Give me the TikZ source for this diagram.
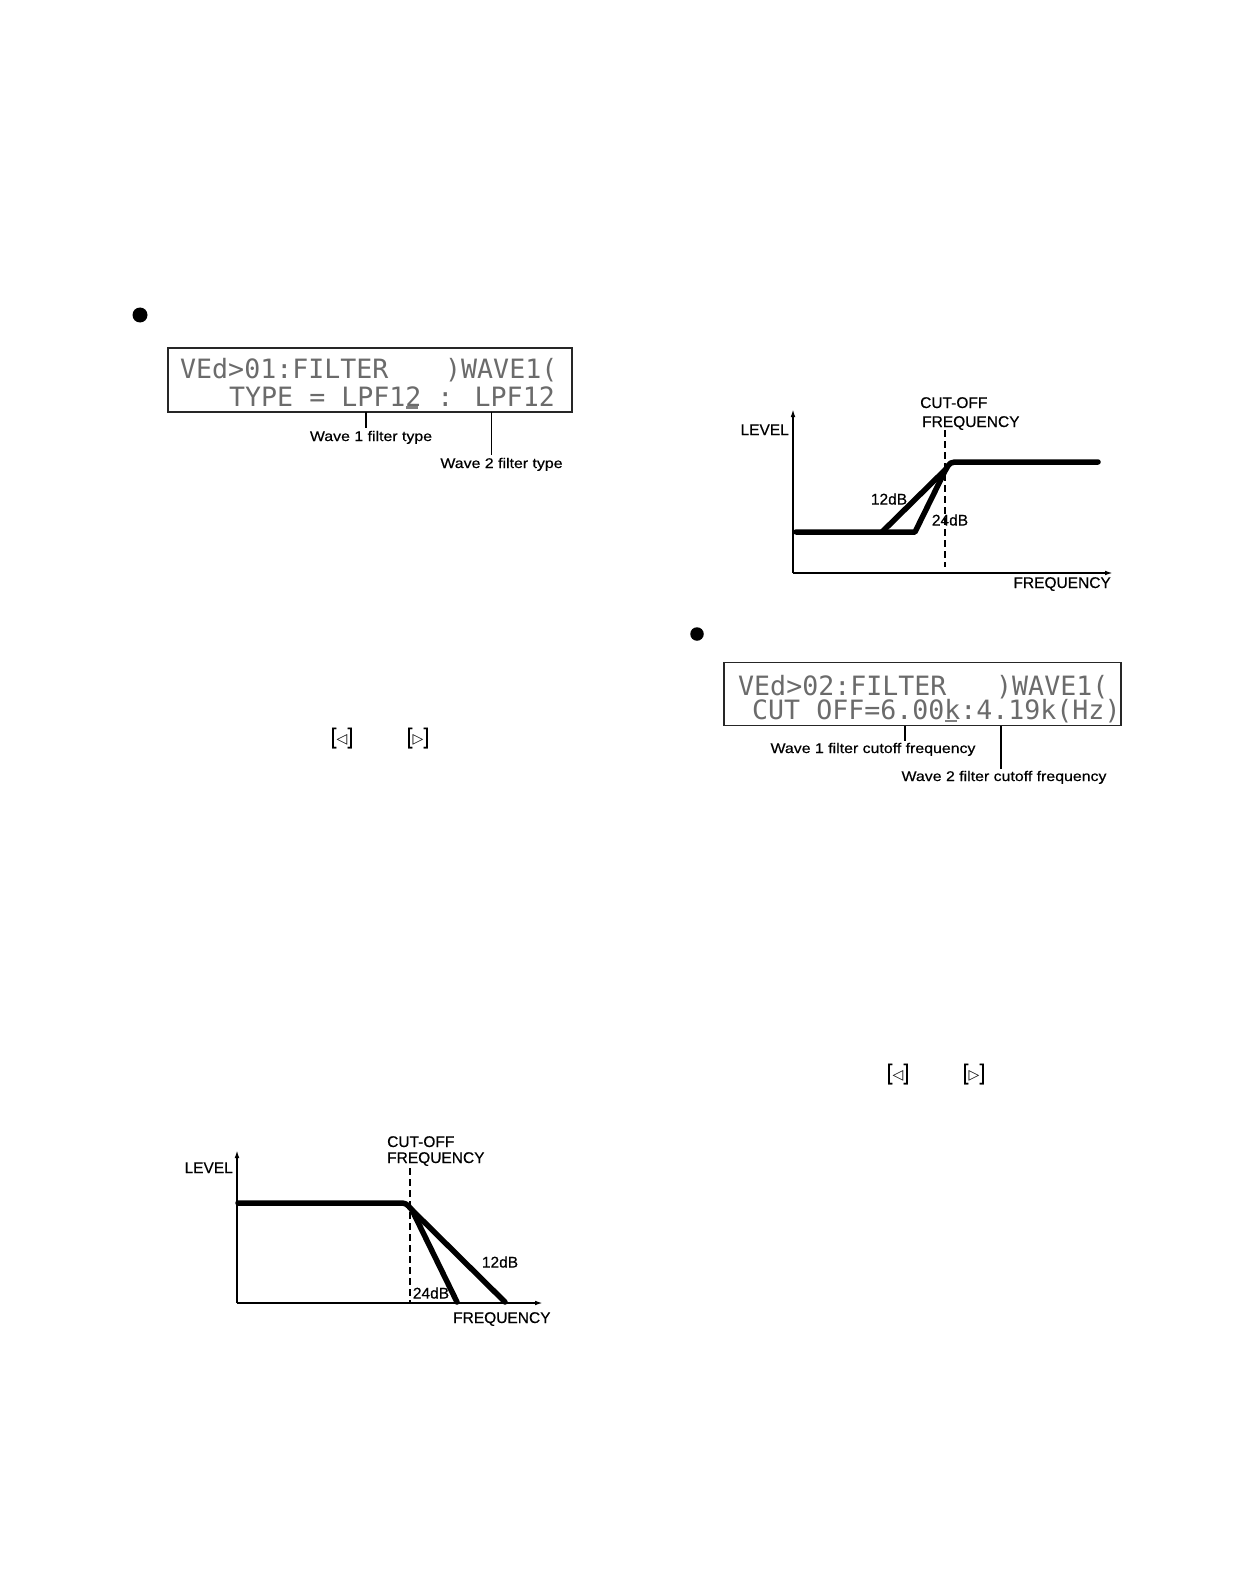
\documentclass[tikz,border=0pt]{standalone}
\usepackage{graphicx}
\usepackage{fontspec}
\setmainfont{Liberation Sans}
\newfontfamily\lblfont[FakeBold=0.35]{Liberation Sans}
\newfontfamily\lcdfont{DejaVu Sans Mono}
\newfontfamily\symfont{DejaVu Sans}
\usetikzlibrary{arrows.meta}
\newcommand\stretchlbl[1]{\scalebox{1.135}[1]{#1}}
\begin{document}
\begin{tikzpicture}[x=1pt,y=-1pt,
  bullet/.style={circle,fill=black,inner sep=0pt,minimum size=15pt},
  lcdbox/.style={draw=black!85,line width=1.4pt,inner sep=0pt},
  lcdA/.style={font=\lcdfont\fontsize{26.6}{26.6}\selectfont,text=black!58,inner sep=0pt,anchor=base west},
  cursor/.style={line width=2.6pt,black!50},
  lbl/.style={font=\lblfont\fontsize{14}{14}\selectfont,inner sep=0pt,anchor=base},
  leader/.style={line width=1.1pt},
  axis/.style={line width=1.9pt,-{Latex[length=9pt,width=4.5pt]}},
  curve/.style={line width=5.5pt,line join=round,line cap=round},
  cutline/.style={line width=2.6pt,dash pattern=on 7pt off 4pt},
  glbl/.style={font=\lblfont\fontsize{15.5}{15.5}\selectfont,inner sep=0pt},
  brk/.style={inner sep=0pt,font=\lblfont\fontsize{22}{22}\selectfont}
]
\useasboundingbox (0,0) rectangle (1242,1594);
\fill[white] (0,0) rectangle (1242,1594);

% ---------- first display ----------
\node[bullet] (b1) at (140,315) {};
\node[lcdbox,minimum width=404pt,minimum height=64pt] (lcd1) at (370,380) {};
\node[lcdA] (t1a) at (180,378) {VEd>01:FILTER};
\node[lcdA] (t1b) at (445,378) {)WAVE1(};
\node[lcdA] (t1c) at (229,406) {TYPE = LPF12 : LPF12};
\coordinate (c1a) at (406,407.5);
\coordinate (c1b) at (418,407.5);
\draw[cursor] (c1a) -- (c1b);

\node[lbl] (w1) at (371,441) {\stretchlbl{Wave 1 filter type}};
\node[lbl] (w2) at (501.5,468) {\stretchlbl{Wave 2 filter type}};
\coordinate (p1) at (366,412);
\coordinate (p2) at (491.7,412);
\draw[leader] (p1) -- (p1 |- 0,428);
\draw[leader] (p2) -- (p2 |- 0,455);

% brackets, left column
\node[brk] (k1) at (342,738) {[{\symfont\fontsize{14}{14}\selectfont ◁}]};
\node[brk] (k2) at (418,738) {[{\symfont\fontsize{14}{14}\selectfont ▷}]};

% ---------- high-pass graph (upper right) ----------
\coordinate (o1) at (793,573);
\coordinate (y1) at (793,408);
\coordinate (x1) at (1114,573);
\draw[axis] (o1) -- (y1);
\draw[axis] (o1) -- (x1);
\node[glbl,anchor=base east] (lv1) at (789,435) {LEVEL};
\node[glbl,anchor=base west] (co1a) at (920,408) {CUT-OFF};
\node[glbl,anchor=base west] (co1b) at (922,427) {FREQUENCY};
\node[glbl,anchor=base east] (fq1) at (1111,588) {FREQUENCY};
\draw[cutline] (945,430) -- (945,567);
\draw[curve] (796,532) -- (915,532) -- (945,471) .. controls (950,462) .. (960,462) -- (1098,462);
\draw[curve] (882,532) -- (946,469);
\node[glbl] (db12a) at (889,499) {12dB};
\node[glbl] (db24a) at (950,520) {24dB};

% ---------- second display ----------
\node[bullet,minimum size=13.5pt] (b2) at (697,634) {};
\node[lcdbox,minimum width=397pt,minimum height=63pt] (lcd2) at (922.5,694.2) {};
\node[lcdA] (t2a) at (738,695) {VEd>02:FILTER};
\node[lcdA] (t2b) at (996,695) {)WAVE1(};
\node[lcdA] (t2c) at (752,719.5) {CUT OFF=6.00k:4.19k(Hz)};
\coordinate (c2a) at (945,721);
\coordinate (c2b) at (957,721);
\draw[cursor] (c2a) -- (c2b);

\node[lbl] (w3) at (873,753) {\stretchlbl{Wave 1 filter cutoff frequency}};
\node[lbl] (w4) at (1004,781) {\stretchlbl{Wave 2 filter cutoff frequency}};
\coordinate (p3) at (905,726);
\coordinate (p4) at (1001,726);
\draw[leader] (p3) -- (p3 |- 0,741);
\draw[leader] (p4) -- (p4 |- 0,769);

% brackets, right column
\node[brk] (k3) at (898,1074) {[{\symfont\fontsize{14}{14}\selectfont ◁}]};
\node[brk] (k4) at (974,1074) {[{\symfont\fontsize{14}{14}\selectfont ▷}]};

% ---------- low-pass graph (lower left) ----------
\coordinate (o2) at (237,1303);
\coordinate (y2) at (237,1149);
\coordinate (x2) at (544,1303);
\draw[axis] (o2) -- (y2);
\draw[axis] (o2) -- (x2);
\node[glbl,anchor=base east] (lv2) at (233,1173) {LEVEL};
\node[glbl,anchor=base west] (co2a) at (387,1147) {CUT-OFF};
\node[glbl,anchor=base west] (co2b) at (387,1163) {FREQUENCY};
\node[glbl,anchor=base west] (fq2) at (453,1323) {FREQUENCY};
\draw[cutline] (410,1168) -- (410,1303);
\draw[curve] (238,1203) -- (398,1203) .. controls (406,1203) .. (412,1210) -- (505,1302);
\draw[curve] (412,1210) -- (457,1302);
\node[glbl] (db12b) at (500,1262) {12dB};
\node[glbl] (db24b) at (431,1293) {24dB};
\end{tikzpicture}
\end{document}
